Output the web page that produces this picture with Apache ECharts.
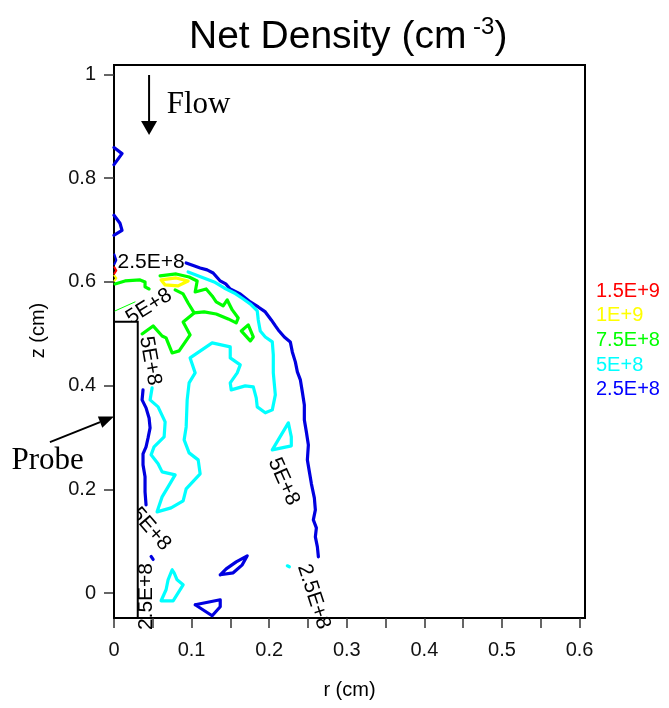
<!DOCTYPE html>
<html>
<head>
<meta charset="utf-8">
<script src="https://cdn.jsdelivr.net/npm/echarts@6/dist/echarts.min.js"></script>
<style>
html,body{margin:0;padding:0;background:#fff;}
#chart{width:669px;height:708px;}
</style>
</head>
<body>
<div id="chart"></div>
<script>
// ---------- axis ticks ----------
const xTickValues = [0, 0.05, 0.1, 0.15, 0.2, 0.25, 0.3, 0.35, 0.4, 0.45, 0.5, 0.55, 0.6];
const xLabelValues = [0, 0.1, 0.2, 0.3, 0.4, 0.5, 0.6];
const yTickValues = [0, 0.2, 0.4, 0.6, 0.8, 1];
const xRange = [0, 0.607];
const yRange = [-0.048, 1.018];

// ---------- contour levels ----------
const levels = ['1.5E+9', '1E+9', '7.5E+8', '5E+8', '2.5E+8'];
const levelColors = ['#ff0000', '#ffff00', '#00ff00', '#00ffff', '#0000ff'];

// ---------- 2.5E+8 contour pieces (r, z) ----------
const blueOuterArc = [[0.0930,0.6364],[0.1030,0.6310],[0.1110,0.6268],[0.1200,0.6230],[0.1278,0.6171],[0.1369,0.6017],[0.1440,0.5960],[0.1498,0.5863],[0.1627,0.5767],[0.1700,0.5680],[0.1756,0.5613],[0.1859,0.5516],[0.1950,0.5420],[0.2027,0.5266],[0.2080,0.5150],[0.2117,0.5073],[0.2195,0.4938],[0.2272,0.4842],[0.2298,0.4649],[0.2337,0.4457],[0.2363,0.4264],[0.2402,0.4110],[0.2427,0.3879],[0.2453,0.3628],[0.2453,0.3339],[0.2479,0.3108],[0.2505,0.2857],[0.2492,0.2568],[0.2518,0.2337],[0.2544,0.2106],[0.2582,0.1836],[0.2595,0.1605],[0.2569,0.1412],[0.2608,0.1258],[0.2595,0.1085],[0.2621,0.0892],[0.2634,0.0700]];
const blueInnerLeft = [[0.0374,0.3917],[0.0362,0.3724],[0.0413,0.3570],[0.0452,0.3377],[0.0465,0.3185],[0.0439,0.2992],[0.0413,0.2819],[0.0374,0.2684],[0.0374,0.2472],[0.0400,0.2241],[0.0400,0.1952],[0.0413,0.1701]];
const blueDotLow = [[0.0478,0.0706],[0.0504,0.0648]];
const blueLoopMid = [[0.1369,0.0353],[0.1446,0.0468],[0.1575,0.0603],[0.1717,0.0719],[0.1653,0.0545],[0.1536,0.0391],[0.1369,0.0353]];
const blueLoopBottom = [[0.1046,-0.0225],[0.1369,-0.0129],[0.1369,-0.0264],[0.1265,-0.0437],[0.1046,-0.0225]];
const blueTopEdge1 = [[0,0.8588],[0.0103,0.8472],[0,0.8260]];
const blueTopEdge2 = [[0,0.7283],[0.0077,0.7129],[0.0103,0.6994],[0.0039,0.6936],[0,0.6898]];
const blueAxisBit = [[0.0005,0.6530],[0.0030,0.6420],[0.0005,0.6340]];

// ---------- 5E+8 contour pieces ----------
const cyanMain = [[0.0491,0.3956],[0.0465,0.3724],[0.0568,0.3590],[0.0659,0.3301],[0.0646,0.3012],[0.0516,0.2819],[0.0478,0.2665],[0.0568,0.2492],[0.0620,0.2337],[0.0788,0.2279],[0.0697,0.2048],[0.0620,0.1855],[0.0555,0.1566],[0.0736,0.1643],[0.0891,0.1778],[0.0930,0.2010],[0.1110,0.2299],[0.1085,0.2568],[0.0968,0.2703],[0.0904,0.2954],[0.0930,0.3204],[0.0943,0.3724],[0.0968,0.4052],[0.1046,0.4245],[0.0981,0.4534],[0.1265,0.4823],[0.1498,0.4746],[0.1498,0.4534],[0.1627,0.4399],[0.1588,0.4245],[0.1498,0.4052],[0.1511,0.3917],[0.1691,0.3994],[0.1795,0.3975],[0.1833,0.3763],[0.1846,0.3590],[0.1950,0.3475],[0.2040,0.3532],[0.2079,0.3821],[0.2053,0.4245],[0.2053,0.4592],[0.2040,0.4842],[0.1950,0.4938],[0.1885,0.5054],[0.1859,0.5266],[0.1846,0.5439],[0.1756,0.5574],[0.1666,0.5670],[0.1549,0.5786],[0.1420,0.5882],[0.1291,0.5998],[0.1123,0.6094],[0.0955,0.6191]];
const cyanTriangle = [[0.2247,0.3281],[0.2285,0.3012],[0.2285,0.2838],[0.2040,0.2761],[0.2247,0.3281]];
const cyanLowLeft = [[0.0749,0.0449],[0.0697,0.0256],[0.0671,0.0064],[0.0607,-0.0148],[0.0762,-0.0148],[0.0891,0.0160],[0.0813,0.0256],[0.0775,0.0391],[0.0749,0.0449]];
const cyanDot = [[0.2234,0.0526],[0.2260,0.0507]];

// ---------- 7.5E+8 contour pieces ----------
const greenTopLeft = [[0.0013,0.5960],[0.0142,0.6017],[0.0336,0.6037],[0.0400,0.5998],[0.0400,0.5902],[0.0452,0.5863]];
const greenBand = [[0.0594,0.6114],[0.0801,0.6152],[0.0968,0.6094],[0.1072,0.6017],[0.1046,0.5805],[0.1188,0.5863],[0.1265,0.5728],[0.1317,0.5613],[0.1407,0.5536],[0.1459,0.5651],[0.1524,0.5459],[0.1601,0.5304],[0.1575,0.5208],[0.1472,0.5285],[0.1317,0.5381],[0.1162,0.5420],[0.1033,0.5401],[0.0891,0.5227],[0.0981,0.4977],[0.0839,0.4669],[0.0749,0.4630],[0.0671,0.4919],[0.0620,0.4957],[0.0504,0.5150],[0.0362,0.4996]];
const greenBranch = [[0.1033,0.5401],[0.0955,0.5593],[0.0891,0.5767],[0.0788,0.5844]];
const greenLoop = [[0.1640,0.5054],[0.1730,0.5170],[0.1795,0.4938],[0.1756,0.4861],[0.1640,0.5054]];
const greenThin = [[0.0013,0.5439],[0.0271,0.5613]];

// ---------- 1E+9 and 1.5E+9 pieces ----------
const yellowLoop = [[0.0607,0.6037],[0.0659,0.5940],[0.0826,0.5921],[0.0955,0.6017],[0.0801,0.6075],[0.0607,0.6037]];
const yellowAxisBit = [[0.0005,0.6120],[0.0030,0.6070],[0.0005,0.6020]];
const redAxisBit = [[0.0005,0.6280],[0.0030,0.6220],[0.0005,0.6160]];

// ---------- contour labels ----------
const labelTexts = ['2.5E+8', '5E+8', '5E+8', '5E+8', '5E+8', '2.5E+8', '2.5E+8'];
const labelR = [0.0478, 0.0452, 0.0465, 0.2186, 0.0473, 0.0420, 0.2573];
const labelZ = [0.6374, 0.5522, 0.4476, 0.2150, 0.1233, -0.0066, -0.0066];
const labelRotate = [0, 32, -80, -66, -49, 90, -72];

// ---------- annotations ----------
const probeR = [0, 0.0306];
const probeZ = [-0.048, 0.523];
const flowArrow = [[0.0452, 0.9987], [0.0452, 0.883]];
const probeArrow = [[-0.0826, 0.2909], [0, 0.3403]];
const flowLabel = ['Flow', 0.068, 0.941];
const probeLabel = ['Probe', -0.1321, 0.2549];

const FONT = 'Liberation Sans, Arial, sans-serif';
const SERIF = 'Liberation Serif, Times New Roman, serif';

function contour(levelIdx, data, width, color) {
  return {
    type: 'line', name: levels[levelIdx], data: data,
    symbol: 'none', showSymbol: false, silent: true, z: 2,
    lineStyle: { color: color || levelColors[levelIdx], width: width || 3.2, cap: 'round', join: 'round' }
  };
}
const lineBlue = '#0000e0';

const labelStyle = {
  show: true, position: 'inside', formatter: p => p.name, opacity: 1,
  color: '#000', fontSize: 21, fontFamily: FONT, textBorderWidth: 0, fontWeight: 'normal'
};

const series = [
  contour(4, blueOuterArc, 3.2, lineBlue),
  contour(4, blueInnerLeft, 3.2, lineBlue),
  contour(4, blueDotLow, 3.2, lineBlue),
  contour(4, blueLoopMid, 3.2, lineBlue),
  contour(4, blueLoopBottom, 3.2, lineBlue),
  contour(4, blueTopEdge1, 3.2, lineBlue),
  contour(4, blueTopEdge2, 3.2, lineBlue),
  contour(4, blueAxisBit, 2, lineBlue),
  contour(3, cyanMain),
  contour(3, cyanTriangle),
  contour(3, cyanLowLeft),
  contour(3, cyanDot),
  contour(2, greenTopLeft),
  contour(2, greenBand),
  contour(2, greenBranch),
  contour(2, greenLoop),
  contour(2, greenThin, 1),
  contour(1, yellowLoop),
  contour(1, yellowAxisBit, 2),
  contour(0, redAxisBit, 2),
  {
    type: 'scatter', symbolSize: 0, silent: true, z: 3,
    itemStyle: { opacity: 1 },
    data: labelTexts.map((t, i) => ({
      name: t, value: [labelR[i], labelZ[i]],
      label: Object.assign({}, labelStyle, { rotate: labelRotate[i] })
    })),
    label: labelStyle
  },
  {
    type: 'custom', z: 10, silent: true, clip: false,
    data: [[0, 0]],
    renderItem: function (params, api) {
      const p = (r, z) => api.coord([r, z]);
      const tl = p(probeR[0], probeZ[1]);
      const br = p(probeR[1], probeZ[0]);
      function arrow(a, b, headLen, headHalf) {
        const s = p(a[0], a[1]), t = p(b[0], b[1]);
        const dx = t[0] - s[0], dy = t[1] - s[1];
        const L = Math.sqrt(dx * dx + dy * dy);
        const ux = dx / L, uy = dy / L;
        const bx = t[0] - ux * headLen, by = t[1] - uy * headLen;
        return [
          { type: 'line', shape: { x1: s[0], y1: s[1], x2: bx, y2: by }, style: { stroke: '#000', lineWidth: 2 } },
          { type: 'polygon', shape: { points: [[t[0], t[1]], [bx - uy * headHalf, by + ux * headHalf], [bx + uy * headHalf, by - ux * headHalf]] }, style: { fill: '#000' } }
        ];
      }
      const fl = p(flowLabel[1], flowLabel[2]);
      const pl = p(probeLabel[1], probeLabel[2]);
      return {
        type: 'group',
        children: [
          { type: 'rect', shape: { x: tl[0], y: tl[1], width: br[0] - tl[0], height: br[1] - tl[1] }, style: { fill: '#fff', stroke: '#000', lineWidth: 2 } },
          ...arrow(flowArrow[0], flowArrow[1], 14, 8),
          ...arrow(probeArrow[0], probeArrow[1], 15, 6),
          { type: 'text', x: fl[0], y: fl[1], style: { text: flowLabel[0], fill: '#000', font: '31px ' + SERIF, align: 'left', verticalAlign: 'middle' } },
          { type: 'text', x: pl[0], y: pl[1], style: { text: probeLabel[0], fill: '#000', font: '31px ' + SERIF, align: 'left', verticalAlign: 'middle' } }
        ]
      };
    }
  }
];

const chart = echarts.init(document.getElementById('chart'), null, { renderer: 'canvas' });
const fmt = v => String(+(+v).toFixed(2));

chart.setOption({
  animation: false,
  backgroundColor: '#fff',
  title: {
    text: '{a|Net Density (cm}{b| -3}{a|)}',
    left: 184, top: 10,
    textStyle: {
      fontWeight: 'normal',
      rich: {
        a: { fontSize: 39, fontFamily: FONT, fontWeight: 'normal', color: '#000', lineHeight: 44 },
        b: { fontSize: 24, fontFamily: FONT, fontWeight: 'normal', color: '#000', verticalAlign: 'top', lineHeight: 28 }
      }
    }
  },
  grid: { left: 114, right: 84, top: 65, bottom: 90, show: true, borderColor: '#000', borderWidth: 2, backgroundColor: 'transparent' },
  xAxis: {
    type: 'value', min: xRange[0], max: xRange[1],
    name: 'r (cm)', nameLocation: 'middle', nameGap: 62,
    nameTextStyle: { fontSize: 20, fontFamily: FONT, color: '#000' },
    axisLine: { show: true, onZero: false, lineStyle: { color: '#000', width: 2 } },
    axisTick: { show: true, length: 10, customValues: xTickValues, lineStyle: { color: '#333', width: 1.5 } },
    axisLabel: { customValues: xLabelValues, fontSize: 20, fontFamily: FONT, color: '#111', margin: 22, formatter: fmt },
    splitLine: { show: false }
  },
  yAxis: {
    type: 'value', min: yRange[0], max: yRange[1],
    name: 'z (cm)', nameLocation: 'middle', nameGap: 66,
    nameTextStyle: { fontSize: 20, fontFamily: FONT, color: '#000', padding: [0, 0, 0, 22] },
    axisLine: { show: true, onZero: false, lineStyle: { color: '#000', width: 2 } },
    axisTick: { show: true, length: 10, customValues: yTickValues, lineStyle: { color: '#333', width: 1.5 } },
    axisLabel: { customValues: yTickValues, fontSize: 20, fontFamily: FONT, color: '#111', margin: 18, formatter: fmt },
    splitLine: { show: false }
  },
  graphic: levels.map((t, i) => ({
    type: 'text', x: 596, y: 291 + i * 24.7,
    style: { text: t, fill: levelColors[i], font: '20px ' + FONT, align: 'left', verticalAlign: 'middle' }
  })),
  series: series
});
</script>
</body>
</html>
